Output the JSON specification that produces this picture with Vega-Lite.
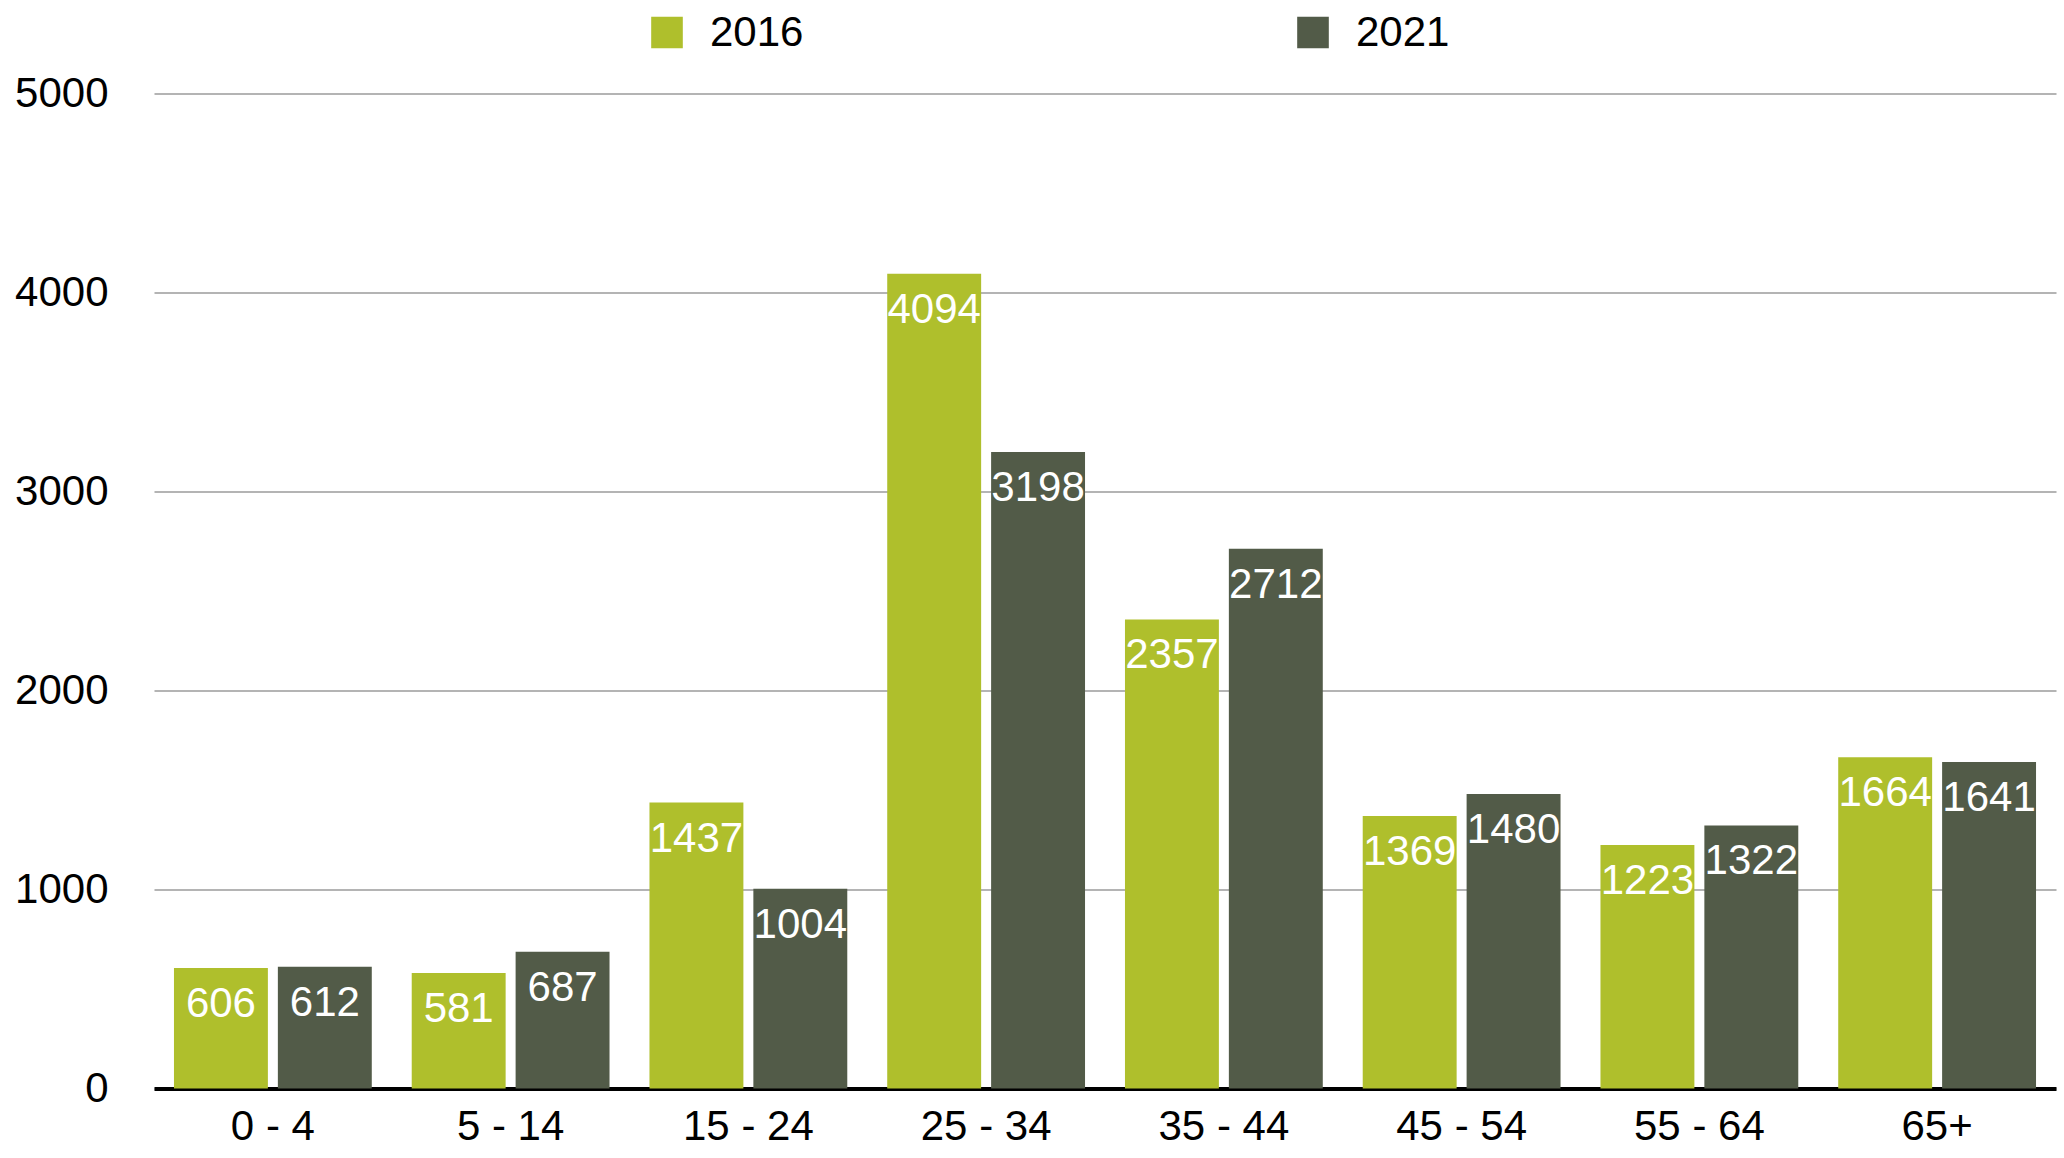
{
  "$schema": "https://vega.github.io/schema/vega-lite/v6.json",
  "autosize": {"type": "none"},
  "width": 1902,
  "height": 995,
  "padding": {"left": 154, "top": 93.5, "right": 8, "bottom": 70},
  "background": "white",
  "config": {
    "font": "Liberation Sans",
    "view": {"stroke": null},
    "axis": {"labelFont": "Liberation Sans", "labelColor": "#000000"}
  },
  "data": {
    "values": [
      {"age": "0 - 4", "year": "2016", "value": 606},
      {"age": "0 - 4", "year": "2021", "value": 612},
      {"age": "5 - 14", "year": "2016", "value": 581},
      {"age": "5 - 14", "year": "2021", "value": 687},
      {"age": "15 - 24", "year": "2016", "value": 1437},
      {"age": "15 - 24", "year": "2021", "value": 1004},
      {"age": "25 - 34", "year": "2016", "value": 4094},
      {"age": "25 - 34", "year": "2021", "value": 3198},
      {"age": "35 - 44", "year": "2016", "value": 2357},
      {"age": "35 - 44", "year": "2021", "value": 2712},
      {"age": "45 - 54", "year": "2016", "value": 1369},
      {"age": "45 - 54", "year": "2021", "value": 1480},
      {"age": "55 - 64", "year": "2016", "value": 1223},
      {"age": "55 - 64", "year": "2021", "value": 1322},
      {"age": "65+", "year": "2016", "value": 1664},
      {"age": "65+", "year": "2021", "value": 1641}
    ]
  },
  "encoding": {
    "x": {
      "field": "age", "type": "nominal", "sort": null,
      "scale": {"paddingInner": 0.168, "paddingOuter": 0.084},
      "axis": {
        "title": null, "labelAngle": 0, "labelFontSize": 42, "labelPadding": 18,
        "ticks": false, "domain": true, "domainColor": "#000000", "domainWidth": 4, "grid": false
      }
    },
    "xOffset": {
      "field": "year", "type": "nominal",
      "scale": {"paddingInner": 0.096, "paddingOuter": 0}
    },
    "y": {
      "field": "value", "type": "quantitative",
      "scale": {"domain": [0, 5000], "nice": false},
      "axis": {
        "title": null, "values": [0, 1000, 2000, 3000, 4000, 5000], "format": "d",
        "labelFontSize": 42, "labelPadding": 46, "ticks": false, "domain": false,
        "grid": true, "gridColor": "#b4b4b4", "gridWidth": 2
      }
    }
  },
  "layer": [
    {
      "mark": {"type": "bar"},
      "encoding": {
        "color": {
          "field": "year", "type": "nominal",
          "scale": {"domain": ["2016", "2021"], "range": ["#afbf2c", "#525b48"]},
          "legend": {
            "title": null, "orient": "none", "direction": "horizontal",
            "legendX": 492, "legendY": -82, "padding": 0,
            "symbolType": "square", "symbolSize": 1000, "symbolStrokeWidth": 0,
            "labelFontSize": 42, "labelFont": "Liberation Sans", "labelColor": "#000000",
            "labelOffset": 22, "columnPadding": 488
          }
        }
      }
    },
    {
      "mark": {"type": "text", "baseline": "top", "dy": 16, "color": "#ffffff", "fontSize": 42, "font": "Liberation Sans"},
      "encoding": {
        "text": {"field": "value", "type": "quantitative", "format": "d"}
      }
    },
    {
      "mark": {"type": "rule", "color": "#000000", "strokeWidth": 4},
      "encoding": {"y": {"datum": 0}}
    }
  ]
}
